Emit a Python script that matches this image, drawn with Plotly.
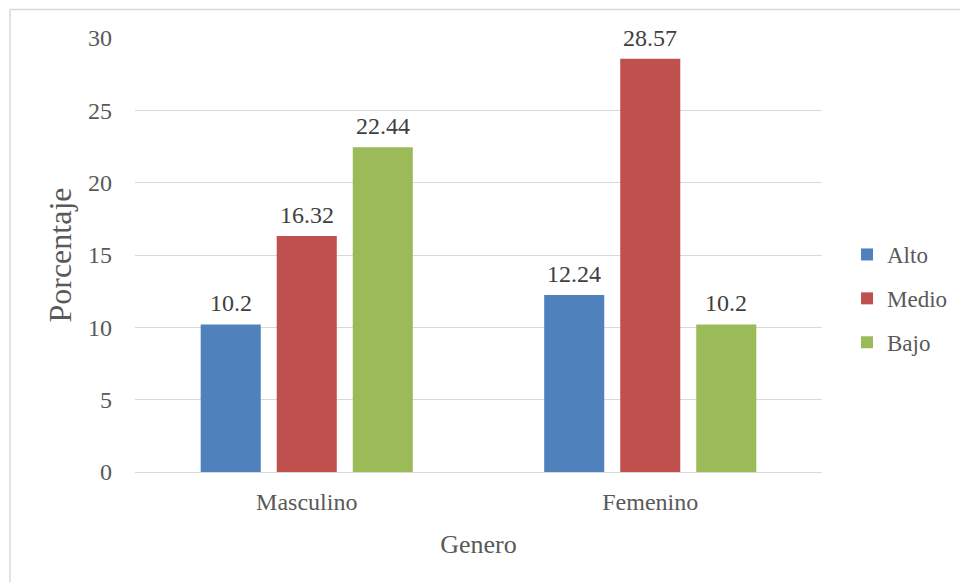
import plotly.graph_objects as go

categories = ["Masculino", "Femenino"]
series_names = ["Alto", "Medio", "Bajo"]
alto = [10.2, 12.24]
medio = [16.32, 28.57]
bajo = [22.44, 10.2]
colors = ["#4f81bd", "#c0504d", "#9bbb59"]
y_ticks = [0, 5, 10, 15, 20, 25, 30]

FONT = "Liberation Serif"
fig = go.Figure()
annotations = []
offsets = [-76, 0, 76]
for name, vals, col, off in zip(series_names, [alto, medio, bajo], colors, offsets):
    fig.add_trace(go.Bar(
        x=categories, y=vals, name=name, legendgroup=name,
        marker=dict(color=col, line=dict(width=0)),
    ))
    for c, v in zip(categories, vals):
        annotations.append(dict(
            x=c, y=v, xref="x", yref="y", text=str(v), showarrow=False,
            xanchor="center", yanchor="bottom", xshift=off, yshift=6,
            font=dict(family=FONT, size=24, color="#404040"),
        ))

L, R, T, B = 135, 138, 38, 110
W, H = 960, 582
pw, ph = W - L - R, H - T - B
def px_x(p):
    return (p - L) / pw
def px_y(p):
    return (H - B - p) / ph

fig.update_layout(
    width=W, height=H,
    margin=dict(l=L, r=R, t=T, b=B, autoexpand=False),
    paper_bgcolor="white", plot_bgcolor="white",
    barmode="group", bargap=0.336, bargroupgap=0.21,
    font=dict(family=FONT, color="#595959", size=22),
    annotations=annotations,
    xaxis=dict(
        title=dict(text="Genero", font=dict(family=FONT, size=26, color="#595959"), standoff=20),
        tickfont=dict(family=FONT, size=24, color="#595959"),
        showline=False, showgrid=False, ticks="", ticklen=0, ticklabelstandoff=13,
    ),
    yaxis=dict(
        title=dict(text="Porcentaje", font=dict(family=FONT, size=32, color="#595959"), standoff=6),
        range=[0, 30], tickvals=y_ticks, ticktext=[str(t) for t in y_ticks],
        tickfont=dict(family=FONT, size=24, color="#595959"),
        showgrid=True, gridcolor="#d9d9d9", gridwidth=1.3,
        zeroline=True, zerolinecolor="#d9d9d9", zerolinewidth=1.3,
        showline=False, ticks="", ticklabelstandoff=22,
    ),
    legend=dict(
        x=px_x(847), y=px_y(233), xanchor="left", yanchor="top",
        font=dict(family=FONT, size=23, color="#595959"),
        tracegroupgap=11, itemwidth=30, bgcolor="rgba(0,0,0,0)",
    ),
    shapes=[
        dict(type="line", xref="paper", yref="paper", x0=px_x(10), x1=px_x(962), y0=px_y(9.5), y1=px_y(9.5),
             line=dict(color="#d9d9d9", width=1.5)),
        dict(type="line", xref="paper", yref="paper", x0=px_x(10), x1=px_x(10), y0=px_y(9.5), y1=px_y(590),
             line=dict(color="#d9d9d9", width=1.5)),
    ],
)

fig.write_html("out.html")
